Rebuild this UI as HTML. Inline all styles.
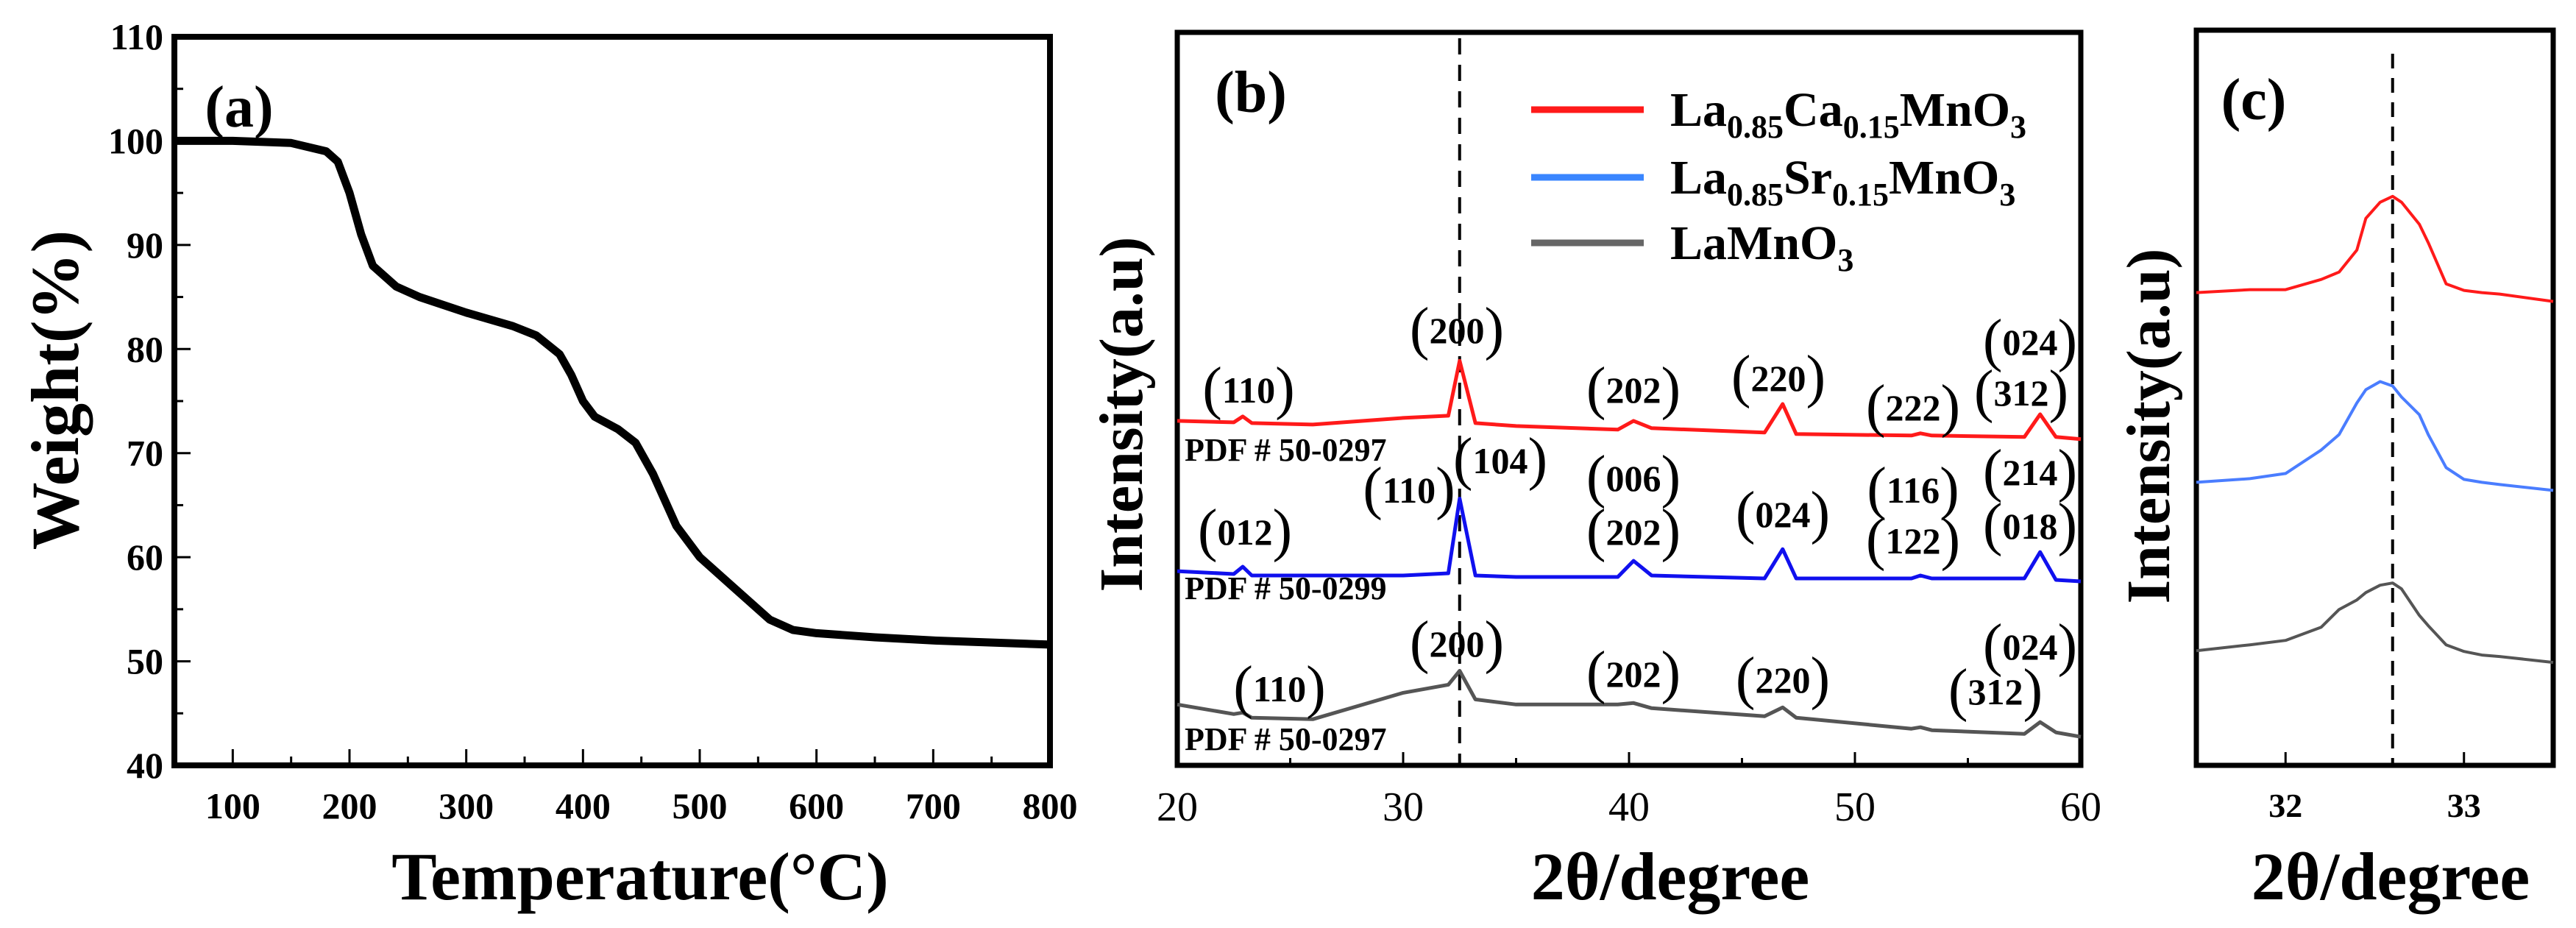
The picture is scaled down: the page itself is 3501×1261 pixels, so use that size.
<!DOCTYPE html>
<html><head><meta charset="utf-8"><style>
html,body{margin:0;padding:0;background:#fff}
svg{display:block}
text{font-family:"Liberation Serif",serif;font-weight:bold;fill:#000}
</style></head><body>
<svg id="fig" width="3501" height="1261" viewBox="0 0 3501 1261" xmlns="http://www.w3.org/2000/svg">
<g id="pa"></g>
<g id="pb"></g>
<g id="pc"></g>
</svg>
<script>
// Panel (a) TGA data
const tgaTemp=[50,100,150,180,190,200,210,220,240,260,300,340,360,380,390,400,410,430,445,460,480,500,530,560,580,600,650,700,800];
const tgaWeight=[100,100,99.8,99,98,95,91,88,86,85,83.5,82.2,81.3,79.5,77.5,75,73.5,72.3,71,68,63,60,57,54,53,52.7,52.3,52,51.6];
const aXTicks=[100,200,300,400,500,600,700,800];
const aYTicks=[40,50,60,70,80,90,100,110];
// Panel (b) XRD data (arbitrary intensity, 0-100 across frame)
const bAngle=[20,22.5,22.9,23.3,26,30,32,32.5,33.2,35,39.5,40.2,41,46,46.8,47.4,52.5,52.9,53.4,57.5,58.2,58.9,60];
const bCa=[47.0,46.8,47.6,46.7,46.5,47.4,47.7,55.2,46.7,46.3,45.8,47.0,46.0,45.4,49.3,45.2,45.0,45.3,45.0,44.8,47.9,44.8,44.5];
const bSr=[26.5,26.1,27.1,25.9,25.9,25.9,26.2,36.4,25.9,25.7,25.7,27.9,25.9,25.5,29.5,25.5,25.5,25.9,25.5,25.5,29.1,25.3,25.1];
const bLa=[8.3,7.0,7.2,6.5,6.3,9.9,11.0,12.9,9.0,8.3,8.3,8.5,7.8,6.7,7.9,6.5,5.0,5.2,4.8,4.3,5.9,4.5,3.9];
const bXTicks=[20,30,40,50,60];
// Panel (c) zoomed peak data
const cAngle=[31.5,31.8,32.0,32.2,32.3,32.4,32.45,32.53,32.6,32.65,32.75,32.8,32.9,33.0,33.1,33.2,33.5];
const cCa=[64.3,64.7,64.7,66.1,67.1,70.1,74.4,76.6,77.4,76.6,73.6,71.1,65.5,64.6,64.3,64.1,63.1];
const cSr=[38.5,39.0,39.7,42.9,45.0,49.3,51.1,52.2,51.6,50.1,47.7,45.0,40.5,38.9,38.5,38.2,37.4];
const cLa=[15.6,16.4,17.0,18.8,21.2,22.5,23.5,24.5,24.8,24.0,20.4,19.0,16.4,15.5,15.0,14.8,14.0];
const cXTicks=[32,33];

const NS="http://www.w3.org/2000/svg";
function mk(parent,tag,attrs,txt){const e=document.createElementNS(NS,tag);for(const k in attrs)e.setAttribute(k,attrs[k]);if(txt!==undefined)e.textContent=txt;parent.appendChild(e);return e;}

// ---------- Panel A ----------
const pa=document.getElementById('pa');
const aL=237,aR=1427,aT=50,aB=1040;
const ax=v=>aL+(v-50)/(800-50)*(aR-aL);
const ay=v=>aB-(v-40)/(110-40)*(aB-aT);
let fr=mk(pa,'rect',{x:aL,y:aT,width:aR-aL,height:aB-aT,fill:'none',stroke:'#000','stroke-width':8});


for(let v=100;v<=750;v+=50){const major=v%100===0;let t=mk(pa,'line',{x1:ax(v),x2:ax(v),y1:aB,y2:aB-(major?22:12),stroke:'#000','stroke-width':3});

}
for(let v=45;v<110;v+=5){const major=v%10===0;let t=mk(pa,'line',{x1:aL,x2:aL+(major?22:12),y1:ay(v),y2:ay(v),stroke:'#000','stroke-width':3});

}
aXTicks.forEach(v=>{let t=mk(pa,'text',{x:ax(v),y:aB+72,'text-anchor':'middle','font-size':50},String(v));

});
aYTicks.forEach(v=>{let t=mk(pa,'text',{x:aL-15,y:ay(v)+17,'text-anchor':'end','font-size':50},String(v));

});
let ad='';tgaTemp.forEach((t,i)=>{ad+=(i?'L':'M')+ax(t).toFixed(1)+','+ay(tgaWeight[i]).toFixed(1);});
let ac=mk(pa,'path',{d:ad,fill:'none',stroke:'#000','stroke-width':11,'stroke-linejoin':'round'});


let al=mk(pa,'text',{x:325,y:172,'text-anchor':'middle','font-size':80},'(a)');


let axl=mk(pa,'text',{x:870,y:1222,'text-anchor':'middle','font-size':92},'Temperature(°C)');


let ayl=mk(pa,'text',{x:0,y:0,'text-anchor':'middle','font-size':92,transform:'translate(106,530) rotate(-90)'},'Weight(%)');



// ---------- Panel B ----------
const pb=document.getElementById('pb');
const bL=1600,bR=2828,bT=44,bB=1040;
const bx=v=>bL+(v-20)/40*(bR-bL);
const by=v=>bB-v/100*(bB-bT);
fr=mk(pb,'rect',{x:bL,y:bT,width:bR-bL,height:bB-bT,fill:'none',stroke:'#000','stroke-width':7});


for(let v=25;v<60;v+=5){let t=mk(pb,'line',{x1:bx(v),x2:bx(v),y1:bB,y2:bB-(v%10===0?18:10),stroke:'#000','stroke-width':3});

}
bXTicks.forEach(v=>{let t=mk(pb,'text',{x:bx(v),y:bB+75,'text-anchor':'middle','font-size':56,style:'font-weight:normal'},String(v));

});
let dl=mk(pb,'line',{x1:bx(32.5),x2:bx(32.5),y1:bT+8,y2:bB,stroke:'#000','stroke-width':4,'stroke-dasharray':'22,14'});


function series(g,xs,ys,fx,fy,col,name,w){let d='';xs.forEach((x,i)=>{d+=(i?'L':'M')+fx(x).toFixed(1)+','+fy(ys[i]).toFixed(1);});
let p=mk(g,'path',{d:d,fill:'none',stroke:col,'stroke-width':w,'stroke-linejoin':'round'});

}
series(pb,bAngle,bCa,bx,by,'#ff1a1a','series-la-ca',5);
series(pb,bAngle,bSr,bx,by,'#1010ee','series-la-sr',5);
series(pb,bAngle,bLa,bx,by,'#555','series-lamno3',5);
function hkl(g,x,y,s){let t=mk(g,'text',{x:x,y:y+16,'text-anchor':'middle','font-size':50});


mk(t,'tspan',{'font-size':80,style:'font-weight:normal',dy:7},'(');mk(t,'tspan',{dy:-7},s);mk(t,'tspan',{'font-size':80,style:'font-weight:normal',dy:7},')');}
[[1697,531,'110'],[1980,450,'200'],[2220,531,'202'],[2417,515,'220'],[2600,555,'222'],[2747,535,'312'],[2759,466,'024'],
 [1915,667,'110'],[2039,627,'104'],[2220,651,'006'],[2220,724,'202'],[2423,700,'024'],[2600,667,'116'],[2600,736,'122'],[2759,643,'214'],[2759,716,'018'],[1692,724,'012'],
 [1980,876,'200'],[1739,937,'110'],[2220,917,'202'],[2423,925,'220'],[2712,941,'312'],[2759,880,'024']].forEach(a=>hkl(pb,a[0],a[1],a[2]));
[[626,'PDF # 50-0297'],[814,'PDF # 50-0299'],[1019,'PDF # 50-0297']].forEach(a=>{let t=mk(pb,'text',{x:1610,y:a[0],'font-size':44},a[1]);

});
let bl=mk(pb,'text',{x:1700,y:152,'text-anchor':'middle','font-size':80},'(b)');


const legCols=['#ff1a1a','#3a86ff','#666'];
const legY=[149,241,330];
const legNames=[['La','0.85','Ca','0.15','MnO','3'],['La','0.85','Sr','0.15','MnO','3'],['LaMnO','3']];
legNames.forEach((n,i)=>{let g=mk(pb,'g',{});


mk(g,'line',{x1:2081,x2:2234,y1:legY[i],y2:legY[i],stroke:legCols[i],'stroke-width':9});
const t=mk(g,'text',{x:2270,y:legY[i]+22,'font-size':66});
n.forEach((s,j)=>{if(j%2===0)mk(t,'tspan',{dy:j?-16:0},s);else mk(t,'tspan',{'font-size':44,dy:16},s);});});
let bxl=mk(pb,'text',{x:2270,y:1222,'text-anchor':'middle','font-size':92},'2θ/degree');


let byl=mk(pb,'text',{x:0,y:0,'text-anchor':'middle','font-size':84,transform:'translate(1552,563) rotate(-90)'},'Intensity(a.u)');



// ---------- Panel C ----------
const pc=document.getElementById('pc');
const cL=2985,cR=3470,cT=41,cB=1040;
const cx=v=>cL+(v-31.5)/2*(cR-cL);
const cy=v=>cB-v/100*(cB-cT);
fr=mk(pc,'rect',{x:cL,y:cT,width:cR-cL,height:cB-cT,fill:'none',stroke:'#000','stroke-width':7});


cXTicks.forEach(v=>{let t=mk(pc,'line',{x1:cx(v),x2:cx(v),y1:cB,y2:cB-18,stroke:'#000','stroke-width':3});


let l=mk(pc,'text',{x:cx(v),y:cB+70,'text-anchor':'middle','font-size':46},String(v));

});
dl=mk(pc,'line',{x1:cx(32.6),x2:cx(32.6),y1:73,y2:cB,stroke:'#000','stroke-width':4,'stroke-dasharray':'20,13'});


series(pc,cAngle,cCa,cx,cy,'#ff1a1a','series-la-ca',4);
series(pc,cAngle,cSr,cx,cy,'#4a7dff','series-la-sr',4);
series(pc,cAngle,cLa,cx,cy,'#555','series-lamno3',4);
let cl=mk(pc,'text',{x:3063,y:162,'text-anchor':'middle','font-size':80},'(c)');


let cxl=mk(pc,'text',{x:3249,y:1222,'text-anchor':'middle','font-size':92},'2θ/degree');


let cyl=mk(pc,'text',{x:0,y:0,'text-anchor':'middle','font-size':84,transform:'translate(2948,579) rotate(-90)'},'Intensity(a.u)');


</script>
</body></html>
